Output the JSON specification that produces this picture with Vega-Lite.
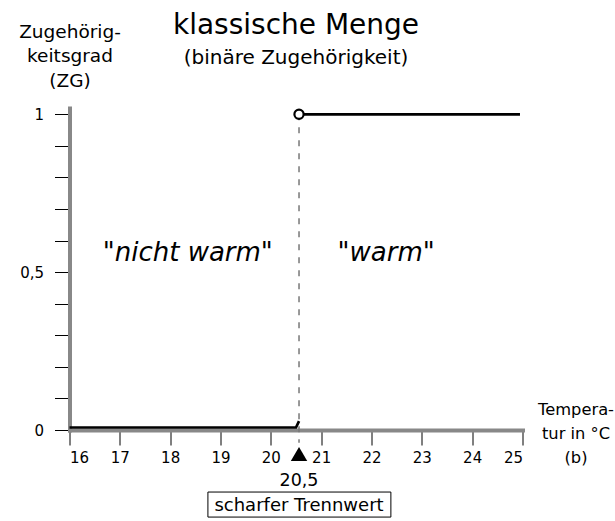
{
  "$schema": "https://vega.github.io/schema/vega-lite/v6.json",
  "width": 453,
  "height": 322,
  "autosize": {"type": "none"},
  "padding": {"left": 69.5, "top": 108, "right": 92.5, "bottom": 91},
  "config": {
    "font": "DejaVu Sans",
    "view": {"stroke": null},
    "axis": {"grid": false}
  },
  "title": {
    "text": "klassische Menge",
    "subtitle": "(binäre Zugehörigkeit)",
    "fontSize": 28,
    "fontWeight": "normal",
    "subtitleFontSize": 20,
    "color": "black",
    "subtitleColor": "black",
    "font": "DejaVu Sans",
    "subtitleFont": "DejaVu Sans",
    "anchor": "middle",
    "offset": -46,
    "subtitlePadding": 8
  },
  "data": {
    "values": [
      {"kind": "lower", "t": 16, "zg": 0},
      {"kind": "lower", "t": 20.5, "zg": 0},
      {"kind": "lower", "t": 20.56, "zg": 0.02},
      {"kind": "upper", "t": 20.56, "zg": 1},
      {"kind": "upper", "t": 24.95, "zg": 1},
      {"kind": "threshold", "t": 20.56, "zg": 1, "zg2": -0.04},
      {"kind": "circle", "t": 20.56, "zg": 1},
      {"kind": "marker", "t": 20.56, "zg": -0.076},
      {"kind": "value", "t": 20.56, "zg": -0.1775, "text": "20,5"},
      {"kind": "box", "t": 18.75, "t2": 22.385, "zg": -0.1965, "zg2": -0.2758},
      {"kind": "boxtext", "t": 20.56, "zg": -0.257, "text": "scharfer Trennwert"},
      {"kind": "region", "t": 18.35, "zg": 0.5357, "text": "\"nicht warm\""},
      {"kind": "region", "t": 22.29, "zg": 0.5357, "text": "\"warm\""}
    ]
  },
  "encoding": {
    "x": {
      "field": "t",
      "type": "quantitative",
      "scale": {"domain": [16, 25], "nice": false, "zero": false},
      "axis": {
        "values": [16, 17, 18, 19, 20, 21, 22, 23, 24, 25],
        "format": "d",
        "domainColor": "#888888",
        "domainWidth": 4,
        "domainCap": "square",
        "tickColor": "black",
        "tickWidth": 1,
        "tickSize": 15,
        "labelFontSize": 15,
        "labelPadding": 5,
        "labelColor": "black",
        "title": ["Tempera-", "tur in °C", "(b)"],
        "titleX": 506,
        "titleY": -16,
        "titleAlign": "center",
        "titleBaseline": "alphabetic",
        "titleAngle": 0,
        "titleFontSize": 16.3,
        "titleFontWeight": "normal",
        "titleLineHeight": 24,
        "titleColor": "black"
      }
    },
    "y": {
      "field": "zg",
      "type": "quantitative",
      "scale": {"domain": [0, 1.02], "nice": false, "zero": false},
      "axis": {
        "values": [0, 0.1, 0.2, 0.3, 0.4, 0.5, 0.6, 0.7, 0.8, 0.9, 1],
        "labelExpr": "datum.value == 0.5 ? '0,5' : (datum.value == 0 ? '0' : (datum.value == 1 ? '1' : ''))",
        "domainColor": "#888888",
        "domainWidth": 4,
        "domainCap": "square",
        "tickColor": "black",
        "tickWidth": 1,
        "tickSize": 15,
        "labelFontSize": 15,
        "labelPadding": 11,
        "labelColor": "black",
        "title": ["Zugehörig-", "keitsgrad", "(ZG)"],
        "titleX": 0,
        "titleY": -71,
        "titleAlign": "center",
        "titleBaseline": "alphabetic",
        "titleAngle": 0,
        "titleFontSize": 18.5,
        "titleFontWeight": "normal",
        "titleLineHeight": 24.5,
        "titleColor": "black"
      }
    }
  },
  "layer": [
    {
      "transform": [{"filter": "datum.kind == 'threshold'"}],
      "mark": {"type": "rule", "color": "#777777", "strokeWidth": 1.5, "strokeDash": [6, 7]},
      "encoding": {"y2": {"field": "zg2"}}
    },
    {
      "transform": [{"filter": "datum.kind == 'lower'"}],
      "mark": {"type": "line", "color": "black", "strokeWidth": 2.7, "yOffset": -2.5},
      "encoding": {}
    },
    {
      "transform": [{"filter": "datum.kind == 'upper'"}],
      "mark": {"type": "line", "color": "black", "strokeWidth": 2.7},
      "encoding": {}
    },
    {
      "transform": [{"filter": "datum.kind == 'circle'"}],
      "mark": {"type": "point", "shape": "circle", "filled": false, "fill": "white", "fillOpacity": 1, "stroke": "black", "strokeWidth": 2.2, "size": 85, "opacity": 1}
    },
    {
      "transform": [{"filter": "datum.kind == 'marker'"}],
      "mark": {"type": "point", "shape": "triangle-up", "filled": true, "color": "black", "size": 270, "opacity": 1}
    },
    {
      "transform": [{"filter": "datum.kind == 'value'"}],
      "mark": {"type": "text", "fontSize": 17.5, "baseline": "alphabetic", "align": "center", "color": "black"},
      "encoding": {"text": {"field": "text"}}
    },
    {
      "transform": [{"filter": "datum.kind == 'box'"}],
      "mark": {"type": "rect", "fill": "white", "stroke": "black", "strokeWidth": 1},
      "encoding": {"x2": {"field": "t2"}, "y2": {"field": "zg2"}}
    },
    {
      "transform": [{"filter": "datum.kind == 'boxtext'"}],
      "mark": {"type": "text", "fontSize": 18, "baseline": "alphabetic", "align": "center", "color": "black"},
      "encoding": {"text": {"field": "text"}}
    },
    {
      "transform": [{"filter": "datum.kind == 'region'"}],
      "mark": {"type": "text", "fontSize": 26, "fontStyle": "italic", "baseline": "alphabetic", "align": "center", "color": "black"},
      "encoding": {"text": {"field": "text"}}
    }
  ]
}
